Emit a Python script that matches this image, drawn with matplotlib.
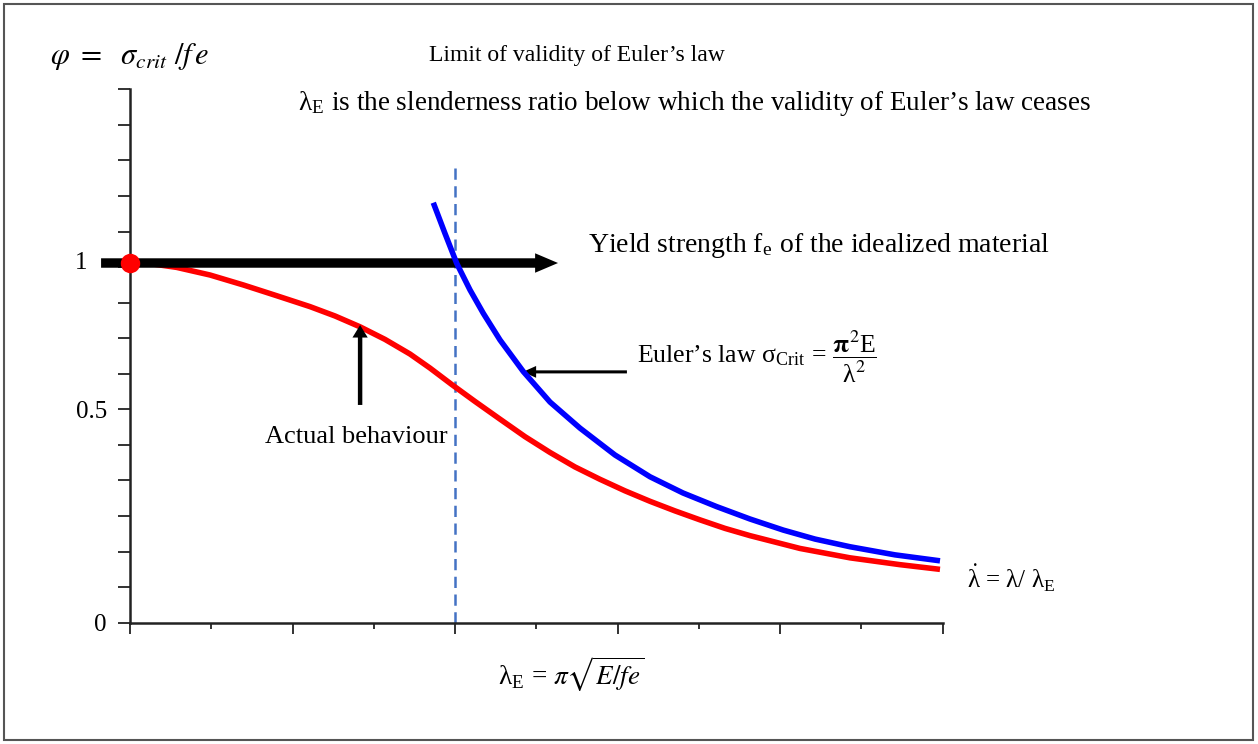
import numpy as np
import matplotlib
matplotlib.use("Agg")
import matplotlib.pyplot as plt
from matplotlib.patches import Rectangle

plt.rcParams['font.family'] = ['Liberation Serif', 'DejaVu Serif']
plt.rcParams['mathtext.fontset'] = 'stix'

# Relative slenderness (lambda / lambda_E) and reduced critical stress phi
lam_actual = [0.0, 0.0615, 0.1437, 0.2462, 0.3486, 0.4492, 0.5538, 0.6308,
              0.7077, 0.7846, 0.8615, 0.9231, 0.9898, 1.0615, 1.1385, 1.2154,
              1.2923, 1.3692, 1.4462, 1.5231, 1.6, 1.6769, 1.7538, 1.8308,
              1.9077, 2.0615, 2.2154, 2.3692, 2.4923]
phi_actual = [1.0, 0.998, 0.985, 0.959, 0.925, 0.889, 0.851, 0.819,
              0.782, 0.739, 0.689, 0.641, 0.585, 0.527, 0.477, 0.436,
              0.399, 0.365, 0.336, 0.309, 0.2845, 0.262, 0.241, 0.221,
              0.204, 0.174, 0.152, 0.136, 0.125]

lam_euler = [0.9332, 0.9692, 1.0052, 1.0462, 1.0871, 1.1385, 1.2102, 1.2923,
             1.3846, 1.4923, 1.6, 1.7015, 1.8052, 1.9077, 2.0102, 2.1077,
             2.2154, 2.3538, 2.4923]
phi_euler = [1.206, 1.101, 0.999, 0.908, 0.828, 0.737, 0.629, 0.525,
             0.456, 0.393, 0.342, 0.304, 0.272, 0.243, 0.217, 0.196,
             0.178, 0.159, 0.145]

lam_E = 1.0            # Euler limit slenderness
phi_yield = 1.0        # yield plateau
lam_limit_top = 1.33   # top of the dashed limit line (phi units)

y_tick_values = [0.0, 0.5]
y_tick_labels = ["0", "0.5"]
x_major = [0.0, 0.5, 1.0, 1.5, 2.0, 2.5]
x_minor = [0.25, 0.75, 1.25, 1.75, 2.25]

W, H = 1258, 744
fig = plt.figure(figsize=(W / 100, H / 100), dpi=100)


def fx(px):
    return px / W


def fy(py):
    return 1 - py / H


# axes box in pixels: x 130..942.5, y 622.7..89.3
ax = fig.add_axes([fx(130), fy(622.7), (942.5 - 130) / W, (622.7 - 89.3) / H])

# schematic vertical scale: 0..0.5 spans six tick steps, 0.5..1 about four
LOW, HIGH = 12.0, 8.23


def fwd(v):
    v = np.asarray(v, float)
    return np.where(v <= 0.5, LOW * v, 6 + HIGH * (v - 0.5))


def inv(p):
    p = np.asarray(p, float)
    return np.where(p <= 6, p / LOW, 0.5 + (p - 6) / HIGH)


ax.set_yscale('function', functions=(fwd, inv))
ax.set_xlim(0, 2.5)
ax.set_ylim(0, float(inv(15)))

for s in ['top', 'right']:
    ax.spines[s].set_visible(False)
for s in ['left', 'bottom']:
    ax.spines[s].set_linewidth(1.8)
    ax.spines[s].set_color('#222222')

ax.set_yticks(y_tick_values)
ax.set_yticklabels(y_tick_labels, fontsize=18)
ax.set_yticks([float(inv(p)) for p in range(1, 16) if p != 6], minor=True)
ax.tick_params(axis='y', which='both', direction='out', length=8.6, width=1.3,
               color='#222222', pad=8)
ax.set_xticks(x_major)
ax.set_xticks(x_minor, minor=True)
ax.set_xticklabels([])
ax.tick_params(axis='x', which='major', direction='out', length=8, width=1.3,
               color='#222222')
ax.tick_params(axis='x', which='minor', direction='out', length=4.3, width=1.3,
               color='#222222')

# label for the yield level sits left of the plateau arrow
ax.annotate("1", xy=(0, phi_yield), xycoords=('axes fraction', 'data'),
            xytext=(-31, 0), textcoords='offset points', ha='right',
            va='center', fontsize=18, annotation_clip=False)

# limit of validity
ax.plot([lam_E, lam_E], [0, lam_limit_top], color='#4472C4', lw=1.8,
        ls=(0, (4.5, 2.6)), zorder=2, clip_on=False)

# actual behaviour
ax.plot(lam_actual, phi_actual, color='#FF0000', lw=4, zorder=3,
        solid_capstyle='butt', solid_joinstyle='round', clip_on=False)


def arrow(start, end, tail, hw, hl, z=4):
    ax.annotate('', xy=end, xytext=start, xycoords='data', textcoords='data',
                arrowprops=dict(arrowstyle=f'simple,tail_width={tail},'
                                f'head_width={hw},head_length={hl}',
                                mutation_scale=1, color='black', lw=0,
                                shrinkA=0, shrinkB=0),
                annotation_clip=False, zorder=z)


# yield strength plateau
arrow((-0.089, phi_yield), (1.317, phi_yield), 6.8, 14, 16.5)

# Euler hyperbola
ax.plot(lam_euler, phi_euler, color='#0000FF', lw=4, zorder=5,
        solid_capstyle='butt', solid_joinstyle='round', clip_on=False)

ax.plot([lam_actual[0]], [phi_actual[0]], 'o', color='#FF0000', ms=14,
        mec='none', zorder=6, clip_on=False)

# pointers
arrow((0.708, 0.515), (0.708, 0.788), 3.2, 11, 9)
arrow((1.529, 0.628), (1.209, 0.628), 2.2, 8.5, 9.5)

# annotations
fig.text(fx(50), fy(57), r"$\varphi\ =\ \ \sigma_{crit}\ /f\,e$", fontsize=22,
         ha='left', va='center')
fig.text(fx(577), fy(56), "Limit of validity of Euler’s law", fontsize=17,
         ha='center', va='center')
fig.text(fx(298), fy(104),
         r"λ$_{\mathregular{E}}$ is the slenderness ratio below which the "
         "validity of Euler’s law ceases", fontsize=19.5, ha='left',
         va='center')
fig.text(fx(588), fy(245),
         r"Yield strength f$_{\mathregular{e}}$ of the idealized material",
         fontsize=20, ha='left', va='center')
fig.text(fx(637), fy(357),
         r"Euler’s law σ$_{\mathregular{Crit}}$ = "
         r"$\dfrac{\mathbf{\pi}^{2}\mathregular{E}}{\mathregular{λ}^{2}}$",
         fontsize=18.5, ha='left', va='center')
fig.text(fx(265), fy(437), "Actual behaviour", fontsize=19, ha='left',
         va='center')
fig.text(fx(967), fy(578),
         r"$\dot{\mathregular{λ}}$ = λ/ λ$_{\mathregular{E}}$", fontsize=18,
         ha='left', va='center')
fig.text(fx(498), fy(674),
         r"λ$_{\mathregular{E}}$ = $\pi\sqrt{E/fe}$", fontsize=19.5,
         ha='left', va='center')

# outer frame
fig.patches.append(Rectangle((fx(4), fy(740)), fx(1249), 736 / H,
                             transform=fig.transFigure, fill=False,
                             edgecolor='#555555', lw=1.5))

fig.savefig("out.png", dpi=100)
